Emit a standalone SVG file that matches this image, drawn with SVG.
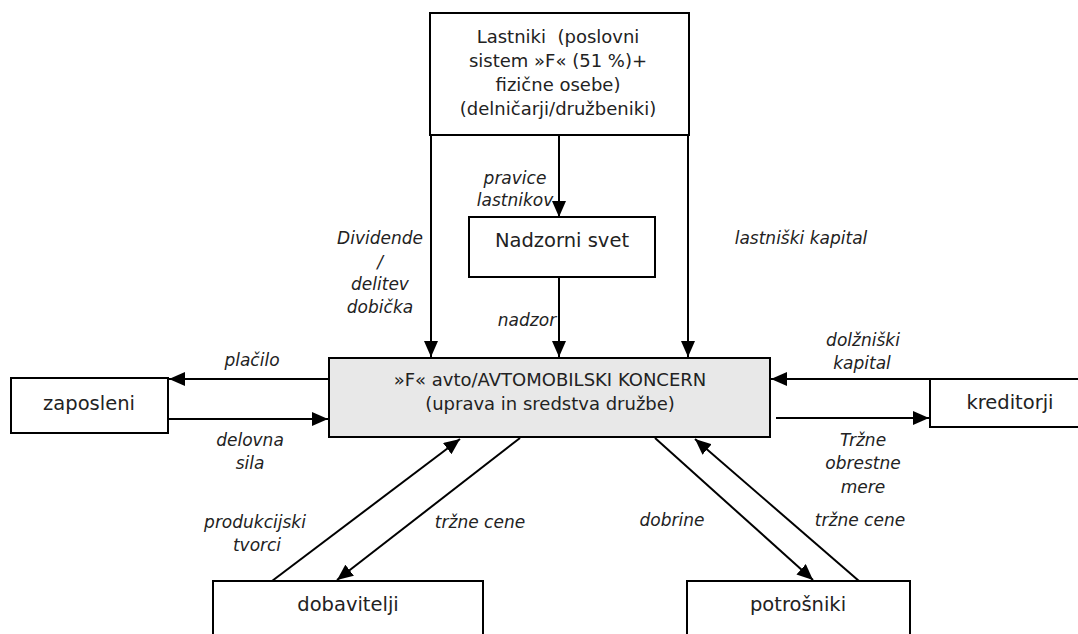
<svg xmlns="http://www.w3.org/2000/svg" width="1078" height="634" viewBox="0 0 1078 634">
<style>
.box{fill:#fff;stroke:#000;stroke-width:2}
.main{fill:#e8e8e8;stroke:#000;stroke-width:2}
.t{font-family:"DejaVu Sans","Liberation Sans",sans-serif;font-size:18px;fill:#222;text-anchor:middle}
.s{font-size:19.5px}
.l{font-family:"DejaVu Sans","Liberation Sans",sans-serif;font-size:17px;font-style:italic;fill:#222;text-anchor:middle}
.c{stroke:#000;stroke-width:2;fill:none;marker-end:url(#ah)}
</style>
<defs>
<marker id="ah" markerUnits="userSpaceOnUse" markerWidth="16" markerHeight="14" viewBox="0 0 16 14" refX="16" refY="7" orient="auto">
<path d="M0,0 L16,7 L0,14 Z" fill="#000"/>
</marker>
</defs>
<g id="connectors">
<line class="c" x1="559" y1="135" x2="559" y2="217"/>
<line class="c" x1="559" y1="277" x2="559" y2="357"/>
<line class="c" x1="431" y1="135" x2="431" y2="357"/>
<line class="c" x1="688" y1="135" x2="688" y2="357"/>
<line class="c" x1="329" y1="379" x2="169" y2="379"/>
<line class="c" x1="168" y1="419" x2="328" y2="419"/>
<line class="c" x1="1078" y1="379" x2="771" y2="379"/>
<line class="c" x1="776" y1="418" x2="929" y2="418"/>
<line class="c" x1="272" y1="581" x2="460" y2="439"/>
<line class="c" x1="520" y1="438" x2="337" y2="580"/>
<line class="c" x1="655" y1="438" x2="813" y2="580"/>
<line class="c" x1="859" y1="581" x2="695" y2="439"/>
</g>
<g id="lastniki">
<rect class="box" x="430" y="13" width="259" height="122"/>
<text class="t" x="558" y="43">Lastniki&#160; (poslovni</text>
<text class="t" x="558" y="67">sistem »F« (51 %)+</text>
<text class="t" x="558" y="91">fizične osebe)</text>
<text class="t" x="558" y="115">(delničarji/družbeniki)</text>
</g>
<g id="nadzorni">
<rect class="box" x="469" y="217" width="186" height="60"/>
<text class="t s" x="562" y="247">Nadzorni svet</text>
</g>
<g id="koncern">
<rect class="main" x="329" y="358" width="441" height="79"/>
<text class="t" x="550" y="386">»F« avto/AVTOMOBILSKI KONCERN</text>
<text class="t" x="550" y="410">(uprava in sredstva družbe)</text>
</g>
<g id="zaposleni">
<rect class="box" x="11" y="378" width="157" height="55"/>
<text class="t s" x="89" y="410">zaposleni</text>
</g>
<g id="kreditorji">
<rect class="box" x="930" y="379" width="160" height="48"/>
<text class="t s" x="1010" y="409">kreditorji</text>
</g>
<g id="dobavitelji">
<rect class="box" x="213" y="581" width="270" height="70"/>
<text class="t s" x="348" y="611">dobavitelji</text>
</g>
<g id="potrosniki">
<rect class="box" x="687" y="581" width="223" height="70"/>
<text class="t s" x="798" y="611">potrošniki</text>
</g>
<g id="labels">
<text class="l" x="515" y="184">pravice</text>
<text class="l" x="515" y="206">lastnikov</text>
<text class="l" x="380" y="244">Dividende</text>
<text class="l" x="380" y="268">/</text>
<text class="l" x="380" y="290">delitev</text>
<text class="l" x="380" y="313">dobička</text>
<text class="l" x="527" y="326">nadzor</text>
<text class="l" x="801" y="244">lastniški kapital</text>
<text class="l" x="252" y="366">plačilo</text>
<text class="l" x="250" y="446">delovna</text>
<text class="l" x="250" y="469">sila</text>
<text class="l" x="255" y="528">produkcijski</text>
<text class="l" x="257" y="551">tvorci</text>
<text class="l" x="480" y="528">tržne cene</text>
<text class="l" x="863" y="346">dolžniški</text>
<text class="l" x="862" y="369">kapital</text>
<text class="l" x="863" y="446">Tržne</text>
<text class="l" x="863" y="469">obrestne</text>
<text class="l" x="863" y="493">mere</text>
<text class="l" x="672" y="526">dobrine</text>
<text class="l" x="860" y="526">tržne cene</text>
</g>
</svg>
